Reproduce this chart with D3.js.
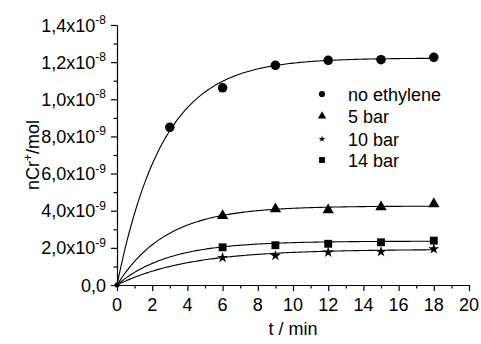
<!DOCTYPE html>
<html><head><meta charset="utf-8">
<script src="https://cdn.jsdelivr.net/npm/d3@7"></script>
<style>body{margin:0;background:#fff}svg{display:block}text{font-family:"Liberation Sans",Arial,sans-serif;fill:#000}</style>
</head><body><svg id="c" width="481" height="344"></svg>
<script>
const times = [3, 6, 9, 12, 15, 18];
const seriesNames = ["no ethylene", "5 bar", "10 bar", "14 bar"];
const noEthylene = [0.849e-8, 1.062e-8, 1.183e-8, 1.210e-8, 1.213e-8, 1.226e-8];
const bar5 = [null, 0.373e-8, 0.409e-8, 0.404e-8, 0.420e-8, 0.437e-8];
const bar10 = [null, 0.147e-8, 0.158e-8, 0.176e-8, 0.179e-8, 0.194e-8];
const bar14 = [null, 0.203e-8, 0.214e-8, 0.222e-8, 0.230e-8, 0.239e-8];
// fitted curve parameters y = A(1-exp(-k t))
const fitA = [1.222e-8, 0.425e-8, 0.192e-8, 0.236e-8];
const fitK = [0.38, 0.356, 0.245, 0.34];
const xTicks = [0, 2, 4, 6, 8, 10, 12, 14, 16, 18, 20];
const yTickMant = ["0,0", "2,0", "4,0", "6,0", "8,0", "1,0", "1,2", "1,4"];
const yTickExp = [null, "-9", "-9", "-9", "-9", "-8", "-8", "-8"];
const yTickVals = [0, 0.2e-8, 0.4e-8, 0.6e-8, 0.8e-8, 1.0e-8, 1.2e-8, 1.4e-8];

const allSeries = [noEthylene, bar5, bar10, bar14];
const symbols = [d3.symbolCircle, d3.symbolTriangle, d3.symbolStar, d3.symbolSquare];
const plotSizes = [72, 56, 36, 62];
const legSizes = [30, 30, 14, 34];

const svg = d3.select("#c");
const x = d3.scaleLinear().domain([0, 20]).range([117, 469]);
const y = d3.scaleLinear().domain([0, 1.4e-8]).range([285, 25]);

// axes
const xAxis = d3.axisBottom(x).tickValues(d3.range(0, 21, 1)).tickSize(0).tickFormat("");
const gx = svg.append("g").attr("transform", "translate(0,285)").call(xAxis);
gx.select(".domain").attr("stroke", "#000").attr("stroke-width", 1.2);
gx.selectAll(".tick line").remove();
gx.selectAll(".tick").append("line").attr("y1", 0)
  .attr("y2", d => d % 2 === 0 ? 6 : 3.5).attr("stroke", "#000").attr("stroke-width", 1.2);
svg.append("g").selectAll("text").data(xTicks).join("text")
  .attr("x", d => x(d)).attr("y", 311).attr("text-anchor", "middle")
  .attr("font-size", 18).text(d => d);

const yAxis = d3.axisLeft(y).tickValues(d3.range(0, 15).map(i => i * 0.1e-8)).tickSize(0).tickFormat("");
const gy = svg.append("g").attr("transform", "translate(117,0)").call(yAxis);
gy.select(".domain").attr("stroke", "#000").attr("stroke-width", 1.2);
gy.selectAll(".tick line").remove();
gy.selectAll(".tick").append("line").attr("x1", 0)
  .attr("x2", (d, i) => i % 2 === 0 ? -6 : -3.5).attr("stroke", "#000").attr("stroke-width", 1.2);
const yl = svg.append("g").selectAll("text").data(yTickVals).join("text")
  .attr("x", 106).attr("y", d => y(d) + 6.5).attr("text-anchor", "end").attr("font-size", 18);
yl.each(function(d, i) {
  const t = d3.select(this);
  if (yTickExp[i] === null) { t.text(yTickMant[i]); return; }
  t.append("tspan").text(yTickMant[i] + "x10");
  t.append("tspan").attr("dy", -7.5).attr("font-size", 12).text(yTickExp[i]);
});

// axis titles
svg.append("text").attr("x", 293).attr("y", 335).attr("text-anchor", "middle")
  .attr("font-size", 18).text("t / min");
const yt = svg.append("text").attr("transform", "translate(39,155) rotate(-90)")
  .attr("text-anchor", "middle").attr("font-size", 18);
yt.append("tspan").text("nCr");
yt.append("tspan").attr("dy", -7.5).attr("font-size", 12).text("+");
yt.append("tspan").attr("dy", 7.5).text("/mol");

// fitted curves
const tFine = d3.range(0, 18.01, 0.1);
fitA.forEach((A, i) => {
  const line = d3.line().x(t => x(t)).y(t => y(A * (1 - Math.exp(-fitK[i] * t))));
  svg.append("path").attr("d", line(tFine)).attr("fill", "none")
    .attr("stroke", "#000").attr("stroke-width", 1.1);
});

// points
allSeries.forEach((vals, i) => {
  const pts = times.map((t, j) => ({t, v: vals[j]})).filter(p => p.v !== null);
  svg.append("g").selectAll("path").data(pts).join("path")
    .attr("transform", p => `translate(${x(p.t)},${y(p.v)})`)
    .attr("d", d3.symbol().type(symbols[i]).size(plotSizes[i])).attr("fill", "#000");
});
// origin dot
svg.append("circle").attr("cx", x(0)).attr("cy", y(0)).attr("r", 2.5).attr("fill", "#000");

// legend
const legY = [94, 116, 139, 160];
const lg = svg.append("g");
seriesNames.forEach((n, i) => {
  lg.append("path").attr("transform", `translate(322,${legY[i]})`)
    .attr("d", d3.symbol().type(symbols[i]).size(legSizes[i])).attr("fill", "#000");
  lg.append("text").attr("x", 348).attr("y", legY[i] + 6.5).attr("font-size", 18).text(n);
});
</script></body></html>
